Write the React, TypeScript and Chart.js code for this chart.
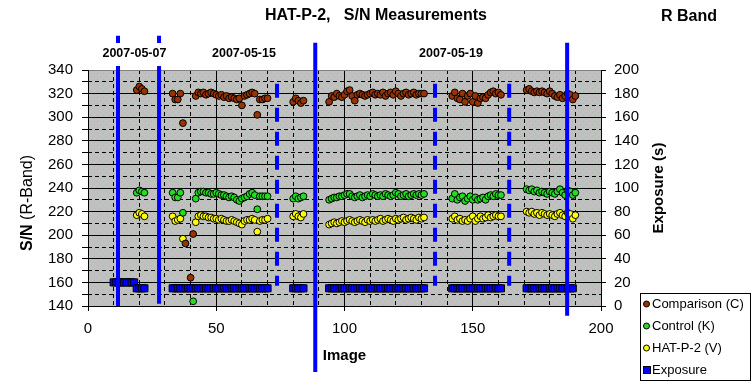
import React, { useEffect, useRef } from 'react';
import { Chart, registerables } from 'chart.js';

Chart.register(...registerables);

const FONT = '"Liberation Sans", Arial, Helvetica, sans-serif';

// Image numbers that have S/N measurements
const snImages = [
  19, 20, 21, 22,
  33, 34, 35, 36, 37, 38, 40, 41,
  42, 43, 44, 45, 46, 47, 48, 49, 50, 51, 52, 53, 54, 55, 56, 57, 58, 59, 60, 61, 62, 63, 64, 65, 66, 67, 68, 69, 70,
  80, 81, 82, 83, 84,
  94, 95, 96, 97, 98, 99, 100, 101, 102, 103, 104, 105, 106, 107, 108, 109, 110, 111, 112, 113,
  114, 115, 116, 117, 118, 119, 120, 121, 122, 123, 124, 125, 126, 127, 128, 129, 130, 131,
  142, 143, 144, 145, 146, 147, 148, 149, 150, 151, 152, 153, 154, 155, 156, 157, 158, 159, 160, 161,
  171, 172, 173, 174, 175, 176, 177, 178, 179, 180, 181, 182, 183, 184, 185, 186, 187, 188, 189, 190,
];

const comparisonSN = [
  323, 326, 324, 322,
  320, 315, 315, 320, 295, 193, 164, 201,
  318, 321, 320, 321, 319, 320, 321, 320, 319, 318, 319, 317, 318, 316, 317, 316, 315, 316, 310, 318, 319, 320, 321, 320, 302, 315, 315, 316, 316,
  313, 316, 314, 312, 314,
  313, 318, 317, 320, 318, 317, 319, 322, 323, 318, 314, 319, 320, 319, 318, 319, 320, 321, 319, 320,
  319, 321, 318, 320, 321, 319, 322, 320, 318, 320, 321, 319, 320, 321, 319, 320, 320, 320,
  318, 321, 316, 315, 320, 313, 318, 320, 313, 318, 312, 316, 317, 316, 319, 321, 322, 320, 321, 319,
  323, 324, 322, 321, 322, 321, 322, 321, 320, 322, 320, 318, 317, 319, 316, 318, 320, 319, 315, 318,
];

const controlSN = [
  236, 238, 237, 236,
  236, 232, 232, 236, 219, null, null, 144,
  231, 236, 237, 237, 236, 236, 235, 235, 236, 235, 234, 234, 233, 232, 233, 232, 230, 229, 231, 232, 233, 235, 236, 234, 222, 233, 233, 233, 233,
  231, 233, 231, 232, 233,
  230, 231, 232, 232, 233, 233, 234, 235, 235, 233, 232, 233, 234, 232, 233, 234, 233, 235, 234, 233,
  234, 233, 235, 234, 233, 234, 236, 235, 233, 234, 235, 233, 234, 235, 234, 235, 234, 235,
  231, 235, 230, 232, 233, 229, 231, 233, 230, 232, 230, 231, 232, 230, 233, 234, 233, 235, 234, 234,
  239, 238, 239, 237, 238, 236, 237, 236, 235, 237, 236, 235, 237, 239, 236, 234, 238, 237, 234, 236,
];

const hatp2SN = [
  217, 219, 218, 216,
  216, 212, 213, 214, 197, null, null, null,
  211, 216, 217, 216, 216, 215, 215, 214, 214, 213, 214, 213, 212, 212, 213, 212, 211, 210, 209, 212, 213, 213, 214, 213, 203, 212, 213, 213, 214,
  216, 218, 216, 215, 218,
  209, 210, 211, 210, 211, 212, 211, 212, 213, 212, 211, 212, 213, 212, 211, 213, 212, 213, 212, 213,
  214, 212, 213, 214, 213, 212, 214, 213, 214, 215, 213, 214, 215, 214, 213, 215, 214, 215,
  214, 216, 213, 214, 212, 213, 212, 214, 216, 212, 214, 216, 214, 215, 217, 215, 216, 217, 216, 216,
  220, 219, 220, 218, 219, 217, 219, 218, 217, 218, 217, 216, 218, 219, 217, 216, 219, 218, 214, 217,
];

// Exposure time per image (seconds)
const exposureImages = [
  10, 11, 12, 13, 14, 15, 16, 17, 18, 19, 20, 21, 22,
  33, 34, 35, 36, 37, 38, 39, 40, 41, 42, 43, 44, 45, 46, 47, 48, 49, 50, 51, 52, 53, 54, 55, 56, 57, 58, 59, 60,
  61, 62, 63, 64, 65, 66, 67, 68, 69, 70,
  80, 81, 82, 83, 84,
  94, 95, 96, 97, 98, 99, 100, 101, 102, 103, 104, 105, 106, 107, 108, 109, 110, 111, 112, 113,
  114, 115, 116, 117, 118, 119, 120, 121, 122, 123, 124, 125, 126, 127, 128, 129, 130, 131,
  142, 143, 144, 145, 146, 147, 148, 149, 150, 151, 152, 153, 154, 155, 156, 157, 158, 159, 160, 161,
  171, 172, 173, 174, 175, 176, 177, 178, 179, 180, 181, 182, 183, 184, 185, 186, 187, 188, 189, 190,
];

const exposureSeconds = [
  20, 20, 20, 20, 20, 20, 20, 20, 20, 15, 15, 15, 15,
  15, 15, 15, 15, 15, 15, 15, 15, 15, 15, 15, 15, 15, 15, 15, 15, 15, 15, 15, 15, 15, 15, 15, 15, 15, 15, 15,
  15, 15, 15, 15, 15, 15, 15, 15, 15, 15,
  15, 15, 15, 15, 15,
  15, 15, 15, 15, 15, 15, 15, 15, 15, 15, 15, 15, 15, 15, 15, 15, 15, 15, 15, 15,
  15, 15, 15, 15, 15, 15, 15, 15, 15, 15, 15, 15, 15, 15, 15, 15, 15, 15,
  15, 15, 15, 15, 15, 15, 15, 15, 15, 15, 15, 15, 15, 15, 15, 15, 15, 15, 15, 15,
  15, 15, 15, 15, 15, 15, 15, 15, 15, 15, 15, 15, 15, 15, 15, 15, 15, 15, 15, 15,
];

// Night boundaries (solid) and session breaks (dashed), in image units
const nightBoundaries = [11.7, 27.7, 88.6, 186.8];
const sessionBreaks = [73.7, 135.3, 164.2];

// Night date labels and the image position they are centred over
const nightLabels = ['2007-05-07', '2007-05-15', '2007-05-19'];
const nightLabelImages = [18.1, 60.8, 141.5];

const seriesNames = ['Comparison (C)', 'Control (K)', 'HAT-P-2 (V)', 'Exposure'];
const seriesColors = ['#993300', '#22DD22', '#FFFF00', '#0000FF'];
const titleText = 'HAT-P-2,   S/N Measurements';
const bandText = 'R Band';

export default function App() {
  const canvasRef = useRef<HTMLCanvasElement | null>(null);

  useEffect(() => {
    const canvas = canvasRef.current;
    if (!canvas) return;

    const pc = document.createElement('canvas');
    pc.width = 6;
    pc.height = 6;
    const pctx = pc.getContext('2d')!;
    pctx.fillStyle = '#C0C0C0';
    pctx.fillRect(0, 0, 6, 6);
    pctx.fillStyle = '#A2C2A2';
    pctx.fillRect(1, 1, 1, 1);
    pctx.fillRect(4, 4, 1, 1);
    const ctx0 = canvas.getContext('2d')!;
    const pattern = ctx0.createPattern(pc, 'repeat');

    const snPoints = (vals: (number | null)[]) =>
      snImages
        .map((x, i) => ({ x, y: vals[i] }))
        .filter((p) => p.y !== null) as { x: number; y: number }[];

    const boundaryTop = [369, 369, 363, 363];
    const boundaryBottom = [140, 142, 84, 131.7];

    const lineSets: any[] = [
      ...nightBoundaries.map((b, i) => ({
        label: 'night' + i,
        data: [
          { x: b, y: boundaryTop[i] },
          { x: b, y: boundaryBottom[i] },
        ],
        showLine: true,
        borderColor: '#0000FF',
        borderWidth: 4,
        borderCapStyle: 'butt',
        pointRadius: 0,
        fill: false,
        clip: false,
        yAxisID: 'y',
      })),
      ...sessionBreaks.map((b, i) => ({
        label: 'break' + i,
        data: [
          { x: b, y: 328.4 },
          { x: b, y: 157.2 },
        ],
        showLine: true,
        borderColor: '#0000FF',
        borderWidth: 4,
        borderDash: [14, 10],
        borderCapStyle: 'butt',
        pointRadius: 0,
        fill: false,
        clip: false,
        yAxisID: 'y',
      })),
    ];

    const markerSet = (label: string, data: any[], color: string) => ({
      label,
      data,
      showLine: false,
      pointStyle: 'circle',
      pointRadius: 3.4,
      pointBorderWidth: 1,
      pointBackgroundColor: color,
      pointBorderColor: '#000',
      backgroundColor: color,
      borderColor: '#000',
      yAxisID: 'y',
    });

    const bgPlugin = {
      id: 'plotBg',
      beforeDraw(chart: any) {
        const { ctx, chartArea: a } = chart;
        ctx.save();
        ctx.fillStyle = '#C0C0C0';
        ctx.fillRect(a.left, a.top, a.right - a.left, a.bottom - a.top);
        if (pattern) {
          ctx.fillStyle = pattern;
          ctx.fillRect(a.left, a.top, a.right - a.left, a.bottom - a.top);
        }
        ctx.restore();
      },
    };

    const textPlugin = {
      id: 'texts',
      afterDraw(chart: any) {
        const { ctx } = chart;
        const xs = chart.scales.x;
        ctx.save();
        ctx.fillStyle = '#000';
        ctx.textBaseline = 'middle';
        ctx.textAlign = 'center';
        ctx.font = `bold 16px ${FONT}`;
        ctx.fillText(titleText, 376, 16);
        ctx.fillText(bandText, 689, 17);

        // date labels
        ctx.font = `bold 12.5px ${FONT}`;
        nightLabels.forEach((t, i) => {
          const px = xs.getPixelForValue(nightLabelImages[i]);
          const w = ctx.measureText(t).width;
          ctx.fillStyle = '#fff';
          ctx.fillRect(px - w / 2 - 4, 43, w + 8, 23);
          ctx.fillStyle = '#000';
          ctx.fillText(t, px, 54);
        });

        // x title
        ctx.font = `bold 15px ${FONT}`;
        ctx.fillText('Image', (chart.chartArea.left + chart.chartArea.right) / 2, 356);

        // right title
        ctx.save();
        ctx.translate(659, 188);
        ctx.rotate(-Math.PI / 2);
        ctx.fillText('Exposure (s)', 0, 0);
        ctx.restore();

        // left title with mixed weight
        ctx.save();
        ctx.translate(28, 203);
        ctx.rotate(-Math.PI / 2);
        ctx.textAlign = 'left';
        ctx.font = `bold 16px ${FONT}`;
        const w1 = ctx.measureText('S/N').width;
        ctx.font = `16px ${FONT}`;
        const w2 = ctx.measureText(' (R-Band)').width;
        const start = -(w1 + w2) / 2;
        ctx.font = `bold 16px ${FONT}`;
        ctx.fillText('S/N', start, 0);
        ctx.font = `16px ${FONT}`;
        ctx.fillText(' (R-Band)', start + w1, 0);
        ctx.restore();

        // legend
        ctx.strokeStyle = '#000';
        ctx.lineWidth = 1;
        ctx.fillStyle = '#fff';
        ctx.fillRect(640.5, 293.5, 110, 87);
        ctx.strokeRect(640.5, 293.5, 110, 87);
        ctx.font = `13px ${FONT}`;
        ctx.textAlign = 'left';
        seriesNames.forEach((name, i) => {
          const cy = 304 + i * 22;
          ctx.fillStyle = seriesColors[i];
          ctx.strokeStyle = '#000';
          if (i < 3) {
            ctx.beginPath();
            ctx.arc(646.5, cy, 3, 0, Math.PI * 2);
            ctx.fill();
            ctx.stroke();
          } else {
            ctx.fillRect(643.5, cy - 3.5, 7, 7);
            ctx.strokeRect(643.5, cy - 3.5, 7, 7);
          }
          ctx.fillStyle = '#000';
          ctx.fillText(name, 652, cy);
        });
        ctx.restore();
      },
    };

    const chart = new Chart(canvas, {
      type: 'scatter',
      data: {
        datasets: [
          ...lineSets,
          markerSet(seriesNames[0], snPoints(comparisonSN), seriesColors[0]),
          markerSet(seriesNames[1], snPoints(controlSN), seriesColors[1]),
          markerSet(seriesNames[2], snPoints(hatp2SN), seriesColors[2]),
          {
            label: seriesNames[3],
            data: exposureImages.map((x, i) => ({ x, y: exposureSeconds[i] })),
            showLine: false,
            pointStyle: 'rect',
            pointRadius: 5,
            pointBorderWidth: 1,
            pointBackgroundColor: seriesColors[3],
            pointBorderColor: '#000',
            backgroundColor: seriesColors[3],
            borderColor: '#000',
            yAxisID: 'y2',
          },
        ],
      },
      options: {
        animation: false,
        responsive: false,
        devicePixelRatio: 1,
        events: [],
        layout: { padding: { top: 70, left: 0, right: 0, bottom: 0 }, autoPadding: false },
        plugins: {
          legend: { display: false },
          title: { display: false },
          tooltip: { enabled: false },
        },
        scales: {
          x: {
            type: 'linear',
            position: 'bottom',
            min: 0,
            max: 200,
            ticks: {
              stepSize: 50,
              autoSkip: false,
              maxRotation: 0,
              color: '#000',
              padding: 9,
              font: { family: FONT, size: 15 },
            },
            grid: { color: '#000', lineWidth: 1, tickLength: 5, tickColor: '#000' },
            border: { color: '#000', width: 1 },
            afterFit: (s: any) => {
              s.height = 80;
            },
          },
          xMinor: {
            type: 'linear',
            position: 'bottom',
            min: 0,
            max: 200,
            ticks: { display: false, stepSize: 10, autoSkip: false },
            grid: {
              color: (c: any) => (c.tick && c.tick.value % 50 === 0 ? 'rgba(0,0,0,0)' : '#000'),
              drawTicks: false,
              lineWidth: 1,
            },
            border: { display: false, dash: [4, 3] },
            afterFit: (s: any) => {
              s.height = 0;
            },
          },
          y: {
            type: 'linear',
            position: 'left',
            min: 140,
            max: 340,
            ticks: {
              stepSize: 10,
              autoSkip: false,
              color: '#000',
              padding: 9,
              font: { family: FONT, size: 15 },
              callback: (v: any) => (Number(v) % 20 === 0 ? String(v) : ''),
            },
            grid: {
              color: (c: any) => {
                const v = c.tick ? c.tick.value : 0;
                if (v === 340) return '#808080';
                return v % 20 === 0 ? '#000' : 'rgba(0,0,0,0)';
              },
              tickColor: '#000',
              tickLength: 6,
              lineWidth: 1,
            },
            border: { color: '#000', width: 1 },
            afterFit: (s: any) => {
              s.width = 88;
            },
          },
          yMinor: {
            type: 'linear',
            position: 'left',
            min: 140,
            max: 340,
            ticks: { display: false, stepSize: 10, autoSkip: false },
            grid: {
              color: (c: any) => (c.tick && c.tick.value % 20 === 0 ? 'rgba(0,0,0,0)' : '#000'),
              drawTicks: false,
              lineWidth: 1,
            },
            border: { display: false, dash: [4, 3] },
            afterFit: (s: any) => {
              s.width = 0;
            },
          },
          y2: {
            type: 'linear',
            position: 'right',
            min: 0,
            max: 200,
            ticks: {
              stepSize: 20,
              autoSkip: false,
              color: '#000',
              padding: 8,
              font: { family: FONT, size: 15 },
            },
            grid: { drawOnChartArea: false, color: '#000', tickColor: '#000', tickLength: 5 },
            border: { color: '#000', width: 1 },
            afterFit: (s: any) => {
              s.width = 152;
            },
          },
        },
      } as any,
      plugins: [bgPlugin, textPlugin],
    });

    return () => {
      chart.destroy();
    };
  }, []);

  return (
    <div style={{ position: 'absolute', left: 0, top: 0, width: 753, height: 386, background: '#fff' }}>
      <canvas ref={canvasRef} width={753} height={386} style={{ display: 'block', width: 753, height: 386 }} />
    </div>
  );
}
